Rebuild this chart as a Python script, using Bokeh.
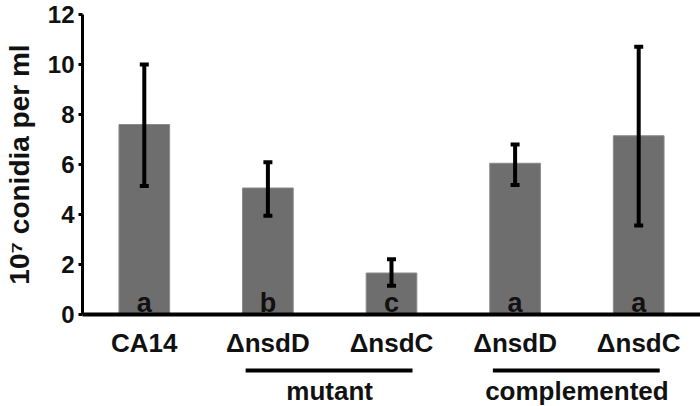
from bokeh.plotting import figure
from bokeh.layouts import column
from bokeh.models import ColumnDataSource, FixedTicker, Whisker, TeeHead, Range1d
from bokeh.core.properties import value
from bokeh.embed import file_html
from bokeh.resources import INLINE

# ---- data ----
categories = ["CA14", "ΔnsdD", "ΔnsdC", "ΔnsdD", "ΔnsdC"]
conidia = [7.6, 5.06, 1.66, 6.05, 7.15]
err_lower = [5.14, 3.95, 1.15, 5.18, 3.56]
err_upper = [10.0, 6.09, 2.21, 6.80, 10.71]
letters = ["a", "b", "c", "a", "a"]
group_names = ["mutant", "complemented"]
group_members = [[1, 2], [3, 4]]
y_ticks = [0, 2, 4, 6, 8, 10, 12]

FONT = "Liberation Sans"
W = 700
H_MAIN, H_GROUP = 360, 46
xs = list(range(len(categories)))
letter_lift = 0.45  # data units above the baseline

src = ColumnDataSource(dict(x=xs, top=conidia, lower=err_lower, upper=err_upper,
                            letter=letters, ly=[letter_lift] * len(xs)))

x_range = Range1d(-0.5, len(categories) - 0.5)

p = figure(width=W, height=H_MAIN, output_backend="svg", toolbar_location=None,
           x_range=x_range, y_range=Range1d(0, 12),
           min_border_left=81, min_border_right=0, min_border_top=14,
           min_border_bottom=45)
p.outline_line_color = None
p.grid.visible = False
p.background_fill_color = "white"
p.border_fill_color = "white"

p.vbar(x="x", top="top", bottom=0, width=0.41, source=src,
       fill_color="#6e6e6e", line_color="#8a8a8a", line_width=1)

w = Whisker(base="x", upper="upper", lower="lower", source=src, level="overlay",
            line_color="black", line_width=4,
            upper_head=TeeHead(size=9, line_width=4, line_color="black"),
            lower_head=TeeHead(size=9, line_width=4, line_color="black"))
p.add_layout(w)

p.text(x="x", y="ly", text="letter", source=src, text_align="center",
       text_baseline="alphabetic", text_font=value(FONT),
       text_font_style="bold", text_font_size="27px", text_color="#111111")

# y axis
ya = p.yaxis[0]
ya.ticker = FixedTicker(ticks=y_ticks)
ya.axis_label = "10\u2077 conidia per ml"
ya.axis_label_text_font = FONT
ya.axis_label_text_font_style = "bold"
ya.axis_label_text_font_size = "28px"
ya.axis_label_text_color = "#111111"
ya.axis_label_standoff = 10
ya.axis_line_width = 3
ya.axis_line_color = "black"
ya.major_tick_line_width = 3
ya.major_tick_out = 4
ya.major_tick_in = 0
ya.minor_tick_line_color = None
ya.major_label_standoff = 4
ya.major_label_text_font = FONT
ya.major_label_text_font_style = "bold"
ya.major_label_text_font_size = "24px"
ya.major_label_text_color = "#111111"

# x axis
xa = p.xaxis[0]
xa.ticker = FixedTicker(ticks=xs)
xa.major_label_overrides = {i: c for i, c in zip(xs, categories)}
xa.axis_line_width = 4
xa.axis_line_color = "black"
xa.major_tick_line_color = None
xa.minor_tick_line_color = None
xa.major_label_standoff = 7
xa.major_label_text_font = FONT
xa.major_label_text_font_style = "bold"
xa.major_label_text_font_size = "26px"
xa.major_label_text_color = "#111111"

# ---- group brackets strip (shares the x range; y in pixels from its top) ----
g = figure(width=W, height=H_GROUP, output_backend="svg", toolbar_location=None,
           x_range=x_range, y_range=Range1d(H_GROUP, 0),
           min_border_left=81, min_border_right=0, min_border_top=0,
           min_border_bottom=0)
g.axis.visible = False
g.grid.visible = False
g.outline_line_color = None
g.background_fill_color = "white"
g.border_fill_color = "white"

gsrc = ColumnDataSource(dict(
    x0=[min(m) - 0.18 for m in group_members],
    x1=[max(m) + 0.17 for m in group_members],
    xc=[(min(m) + max(m)) / 2 for m in group_members],
    name=group_names,
    ly=[10] * len(group_names),
    ty=[30] * len(group_names)))
g.segment(x0="x0", y0="ly", x1="x1", y1="ly", source=gsrc,
          line_color="black", line_width=4)
g.text(x="xc", y="ty", text="name", source=gsrc, text_align="center",
       text_baseline="middle", text_font=value(FONT), text_font_style="bold",
       text_font_size="26px", text_color="#111111")

layout = column(p, g, spacing=0)
open("out.html", "w").write(file_html(layout, INLINE))
